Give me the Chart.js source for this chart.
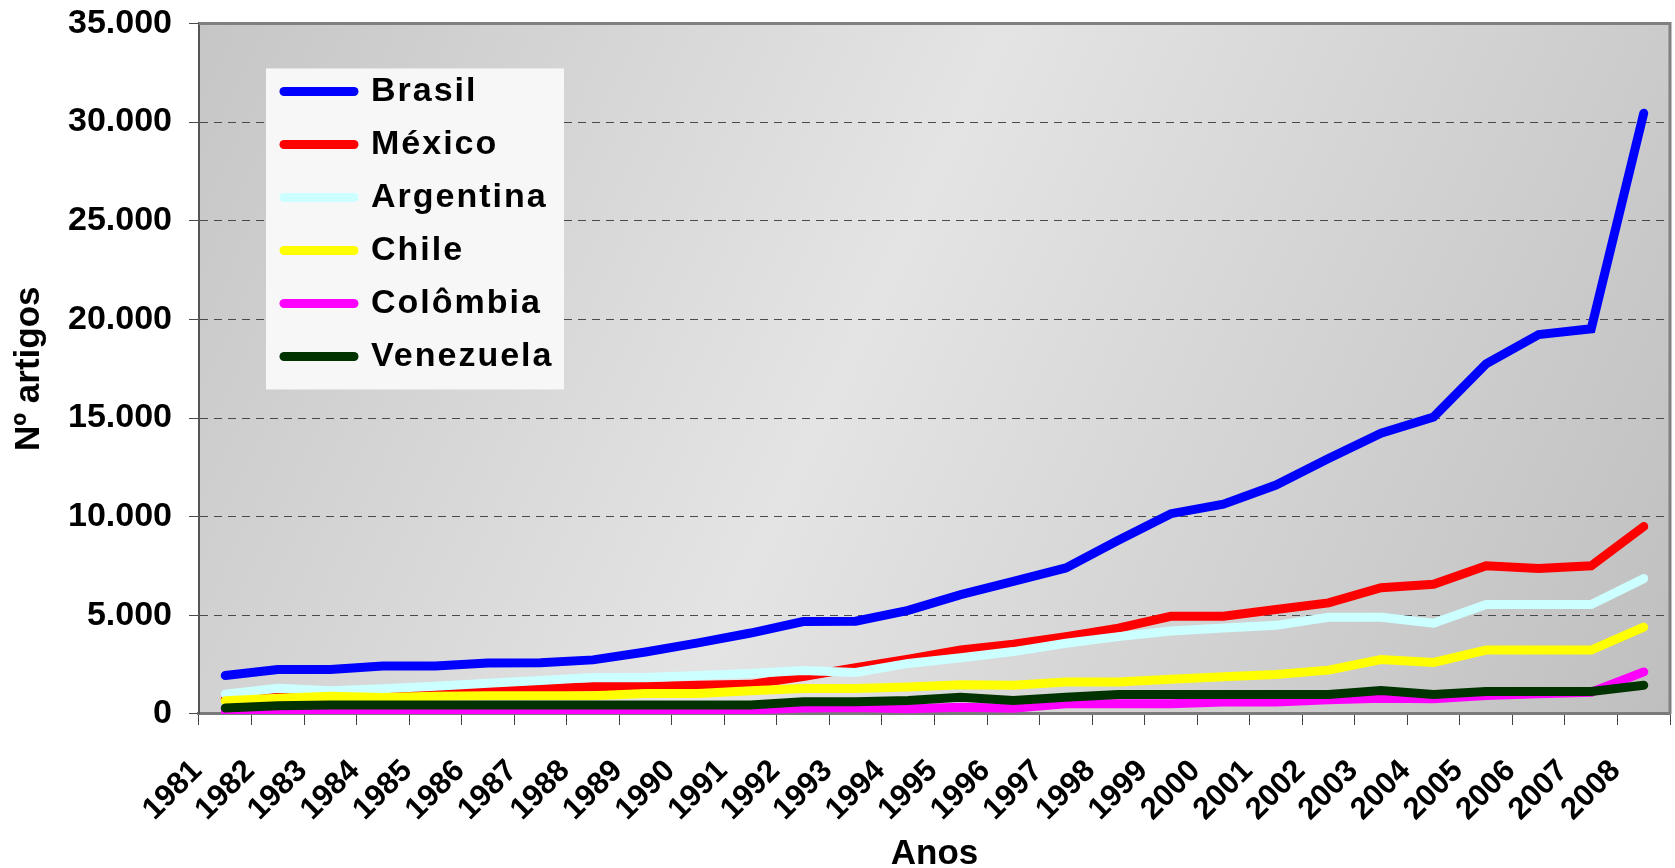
<!DOCTYPE html>
<html>
<head>
<meta charset="utf-8">
<script src="https://cdn.jsdelivr.net/npm/chart.js@4.4.0/dist/chart.umd.min.js"></script>
<style>
  html, body { margin: 0; padding: 0; background: #fff; }
</style>
</head>
<body>
<canvas id="artChart" width="1675" height="868"></canvas>
<script>
// anos e número de artigos por país
const years = ['1981', '1982', '1983', '1984', '1985', '1986', '1987', '1988', '1989', '1990',
    '1991', '1992', '1993', '1994', '1995', '1996', '1997', '1998', '1999', '2000',
    '2001', '2002', '2003', '2004', '2005', '2006', '2007', '2008'];

const brasil    = [1950, 2250, 2250, 2430, 2430, 2580, 2600, 2740, 3140, 3600, 4100, 4680, 4700, 5250,
    6050, 6720, 7400, 8800, 10150, 10630, 11600, 12950, 14230, 15050, 17750, 19230, 19520, 30450];
const mexico    = [750, 950, 920, 960, 1050, 1170, 1300, 1380, 1380, 1450, 1500, 1900, 2350, 2780,
    3240, 3530, 3920, 4350, 4950, 4950, 5290, 5630, 6400, 6570, 7510, 7370, 7510, 9500];
const argentina = [1000, 1300, 1170, 1280, 1400, 1550, 1700, 1850, 1850, 1950, 2050, 2200, 2100, 2560,
    2850, 3160, 3580, 3920, 4200, 4350, 4490, 4900, 4900, 4600, 5550, 5550, 5550, 6860];
const chile     = [670, 790, 900, 830, 890, 920, 920, 920, 1040, 1040, 1170, 1290, 1290, 1370,
    1480, 1450, 1620, 1620, 1760, 1880, 2000, 2220, 2760, 2610, 3240, 3240, 3240, 4400];
const colombia  = [100, 150, 170, 170, 170, 170, 170, 170, 170, 170, 200, 300, 330, 260,
    340, 290, 510, 510, 510, 600, 600, 720, 800, 770, 940, 1020, 1100, 2130];
const venezuela = [300, 420, 450, 450, 450, 450, 450, 450, 450, 450, 450, 620, 620, 680,
    850, 680, 850, 990, 990, 990, 990, 990, 1190, 990, 1140, 1140, 1140, 1450];

const countries = ['Brasil', 'México', 'Argentina', 'Chile', 'Colômbia', 'Venezuela'];
const series    = [brasil, mexico, argentina, chile, colombia, venezuela];
const colors    = ['#0000ff', '#ff0000', '#ccffff', '#ffff00', '#ff00ff', '#003300'];

const FONT = "'Liberation Sans', Arial, sans-serif";

const fmt = (v) => String(v).replace(/\B(?=(\d{3})+(?!\d))/g, '.');

// fundo cinza em degradê da área do gráfico + moldura
const plotBg = {
    id: 'plotBg',
    beforeDraw(chart) {
        const { ctx, chartArea: a } = chart;
        const g = ctx.createLinearGradient(a.left, a.top, a.right, a.bottom);
        g.addColorStop(0, '#c6c6c6');
        g.addColorStop(0.45, '#e4e4e4');
        g.addColorStop(1, '#bfbfbf');
        ctx.save();
        ctx.fillStyle = g;
        ctx.fillRect(a.left, a.top, a.right - a.left, a.bottom - a.top);
        ctx.restore();
    },
    afterDraw(chart) {
        const { ctx, chartArea: a } = chart;
        ctx.save();
        ctx.strokeStyle = '#808080';
        ctx.lineWidth = 3;
        ctx.beginPath();
        ctx.moveTo(a.left, a.top);
        ctx.lineTo(a.right, a.top);
        ctx.lineTo(a.right, a.bottom);
        ctx.stroke();
        ctx.restore();
    }
};

// legenda dentro da área do gráfico, com caixa clara
const legendSpot = {
    id: 'legendSpot',
    afterLayout(chart) {
        const lg = chart.legend;
        if (!lg) return;
        const a = chart.chartArea;
        lg.left = a.left + 66;
        lg.top = a.top + 32;
        if (!lg._boxed) {
            const draw = lg.draw;
            lg.draw = function () {
                const c = this.ctx;
                const ca = chart.chartArea;
                c.save();
                c.fillStyle = '#f7f7f7';
                c.fillRect(ca.left + 67, ca.top + 45, 298, 321);
                c.restore();
                c.letterSpacing = '2px';
                draw.apply(this, arguments);
                c.letterSpacing = '0px';
            };
            lg._boxed = true;
        }
    }
};

const datasets = countries.map((name, i) => ({
    label: name,
    data: series[i],
    borderColor: colors[i],
    backgroundColor: colors[i],
    borderWidth: 9,
    pointRadius: 0,
    tension: 0,
    borderCapStyle: 'round',
    order: countries.length - i
}));

const chart = new Chart(document.getElementById('artChart'), {
    type: 'line',
    data: { labels: years, datasets: datasets },
    options: {
        responsive: false,
        animation: false,
        devicePixelRatio: 1,
        layout: { padding: { left: 8, top: 0, right: 5, bottom: 0 } },
        plugins: {
            tooltip: { enabled: false },
            legend: {
                position: 'chartArea',
                align: 'start',
                labels: {
                    color: '#000',
                    font: { family: FONT, size: 34, weight: 'bold' },
                    usePointStyle: true,
                    pointStyle: 'line',
                    pointStyleWidth: 70,
                    padding: 19,
                    sort: (a, b) => a.datasetIndex - b.datasetIndex,
                    generateLabels: (c) => Chart.defaults.plugins.legend.labels.generateLabels(c)
                        .map((it) => Object.assign(it, { lineCap: 'round' }))
                }
            }
        },
        scales: {
            x: {
                offset: true,
                grid: {
                    offset: true,
                    drawOnChartArea: false,
                    tickLength: 39,
                    tickBorderDash: [10, 200],
                    color: '#444'
                },
                border: { color: '#7a7a7a', width: 3 },
                ticks: {
                    color: '#000',
                    font: { family: FONT, size: 31, weight: 'bold' },
                    minRotation: 45,
                    maxRotation: 45,
                    autoSkip: false,
                    labelOffset: -28,
                    padding: 0
                },
                title: {
                    display: true,
                    text: 'Anos',
                    color: '#000',
                    font: { family: FONT, size: 35, weight: 'bold', lineHeight: 1 },
                    padding: { top: 9, bottom: -4 }
                }
            },
            y: {
                min: 0,
                max: 35000,
                grid: {
                    color: '#4a4a4a',
                    lineWidth: 1,
                    tickLength: 27,
                    tickBorderDash: [0, 17, 10, 100]
                },
                border: { color: '#555', width: 2, dash: [8, 6] },
                ticks: {
                    stepSize: 5000,
                    color: '#000',
                    padding: 0,
                    font: { family: FONT, size: 34, weight: 'bold', lineHeight: 1.38 },
                    callback: (v) => fmt(v)
                },
                title: {
                    display: true,
                    text: 'Nº artigos',
                    color: '#000',
                    font: { family: FONT, size: 35, weight: 'bold' },
                    padding: { top: 0, bottom: 18 }
                }
            }
        }
    },
    plugins: [plotBg, legendSpot]
});
</script>
</body>
</html>
